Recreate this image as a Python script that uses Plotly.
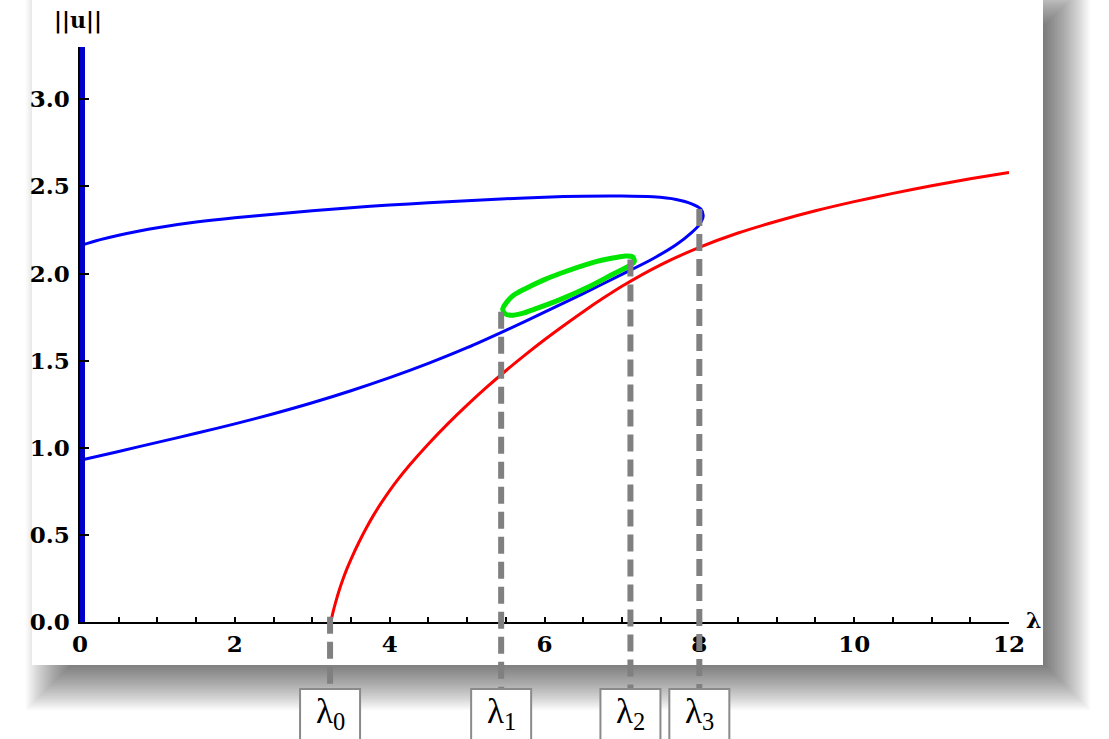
import plotly.graph_objects as go

# ---------------- data ----------------
blue_lam = [0.0, 0.5, 1.0, 1.5, 2.0, 2.5, 3.0, 3.5, 4.0, 4.5, 5.0, 5.5, 6.0, 6.5, 7.0, 7.4, 7.7, 7.9, 8.0, 8.05,
            8.02, 7.9, 7.7, 7.4, 7.0, 6.5, 6.0, 5.5, 5.0, 4.5, 4.0, 3.5, 3.0, 2.5, 2.0, 1.5, 1.0, 0.75, 0.5, 0.25, 0.0]
blue_norm = [0.928, 0.979, 1.031, 1.083, 1.137, 1.195, 1.258, 1.327, 1.402, 1.484, 1.574, 1.674, 1.778, 1.885, 1.995, 2.085, 2.165, 2.235, 2.28, 2.33,
             2.37, 2.40, 2.425, 2.44, 2.445, 2.444, 2.438, 2.429, 2.418, 2.406, 2.393, 2.378, 2.36, 2.34, 2.32, 2.295, 2.263, 2.243, 2.22, 2.193, 2.16]

red_lam = [3.24, 3.27, 3.3, 3.35, 3.4, 3.45, 3.5, 3.6, 3.7, 3.8, 3.9, 4.0, 4.1, 4.25, 4.5, 4.75, 5.0, 5.25, 5.5, 5.75,
           6.0, 6.25, 6.5, 6.75, 7.0, 7.5, 8.0, 8.5, 9.0, 9.5, 10.0, 10.5, 11.0, 11.5, 12.0]
red_norm = [0.0, 0.06, 0.11, 0.185, 0.25, 0.3075, 0.36, 0.455, 0.541, 0.619, 0.689, 0.754, 0.814, 0.8965, 1.0215, 1.137, 1.2445, 1.346, 1.442, 1.533,
            1.62, 1.702, 1.781, 1.856, 1.927, 2.05, 2.15, 2.2325, 2.30, 2.36, 2.4125, 2.46, 2.5035, 2.5435, 2.58]

green_lam = [5.46, 5.52, 5.6, 5.74, 6.0, 6.2, 6.6, 6.9, 7.05, 7.14, 7.16, 7.1, 6.9, 6.6, 6.2, 5.9, 5.7, 5.57, 5.49, 5.46]
green_norm = [1.795, 1.84, 1.875, 1.91, 1.965, 2.0, 2.06, 2.09, 2.10, 2.095, 2.07, 2.045, 2.0, 1.93, 1.85, 1.80, 1.77, 1.76, 1.77, 1.795]

axis_branch_lam = [0.0, 0.0]
axis_branch_norm = [0.0, 3.3]

crit_lam = [3.23, 5.44, 7.11, 8.0]
crit_norm = [0.03, 1.78, 2.08, 2.37]
crit_labels = ["λ<sub>0</sub>", "λ<sub>1</sub>", "λ<sub>2</sub>", "λ<sub>3</sub>"]

x_ticks = [0, 2, 4, 6, 8, 10, 12]
y_ticks = [0.0, 0.5, 1.0, 1.5, 2.0, 2.5, 3.0]
y_ticktext = ["0.0", "0.5", "1.0", "1.5", "2.0", "2.5", "3.0"]

# ---------------- layout geometry ----------------
W, H = 1109, 739
L, R, T, B = 80, 100, 47, 117
PW, PH = W - L - R, H - T - B


def px_x(p):
    return (p - L) / PW


def px_y(p):
    return (H - B - p) / PH


fig = go.Figure()
fig.add_trace(go.Scatter(x=blue_lam, y=blue_norm, mode="lines",
                         line=dict(color="#0000ff", width=3, shape="spline", smoothing=0.8), hoverinfo="skip"))
fig.add_trace(go.Scatter(x=red_lam, y=red_norm, mode="lines",
                         line=dict(color="#ff0000", width=3, shape="spline", smoothing=0.8), hoverinfo="skip"))
fig.add_trace(go.Scatter(x=green_lam, y=green_norm, mode="lines",
                         line=dict(color="#00e600", width=5, shape="spline", smoothing=0.8), hoverinfo="skip"))
fig.add_trace(go.Scatter(x=axis_branch_lam, y=axis_branch_norm, mode="lines",
                         line=dict(color="#0000cc", width=10), hoverinfo="skip"))

shapes = []
# drop shadow of the panel (stacked translucent rectangles)
N = 40
r = 34
bx0, bx1, by0, by1 = 60, 1056, 14, 676
for k in range(N):
    e = -r + (2 * r) * k / (N - 1)
    shapes.append(dict(type="rect", xref="paper", yref="paper", layer="below",
                       x0=px_x(bx0 - e), x1=px_x(bx1 + e), y0=px_y(by1 + e), y1=px_y(by0 - e),
                       fillcolor="rgba(0,0,0,0.023)", line=dict(width=0)))
# white panel
shapes.append(dict(type="rect", xref="paper", yref="paper", layer="below",
                   x0=px_x(32), x1=px_x(1043), y0=px_y(665), y1=px_y(-5),
                   fillcolor="white", line=dict(width=0)))

box_half = 30 / (PW / 12.0)
annotations = []
for lam, top, lab in zip(crit_lam, crit_norm, crit_labels):
    shapes.append(dict(type="line", xref="x", yref="paper", layer="above",
                       x0=lam, x1=lam, y0=top / 3.3, y1=px_y(689),
                       line=dict(color="#808080", width=6, dash="17px,8px")))
    shapes.append(dict(type="rect", xref="x", yref="paper", layer="above",
                       x0=lam - box_half, x1=lam + box_half, y0=px_y(760), y1=px_y(689),
                       fillcolor="white", line=dict(color="#8a8a8a", width=2)))
    annotations.append(dict(x=lam, y=px_y(713), xref="x", yref="paper", text=lab, showarrow=False,
                            font=dict(family="Liberation Serif", size=35, color="black"),
                            xanchor="center", yanchor="middle"))

lab_font = dict(family="DejaVu Serif", size=22, color="black", weight="bold")
annotations.append(dict(x=px_x(78), y=px_y(21), xref="paper", yref="paper", text="||u||", showarrow=False,
                        font=lab_font, xanchor="center", yanchor="middle"))
annotations.append(dict(x=px_x(1033), y=px_y(620), xref="paper", yref="paper", text="λ", showarrow=False,
                        font=lab_font, xanchor="center", yanchor="middle"))

tickfont = dict(family="DejaVu Serif", size=23, color="black", weight="bold")
fig.update_layout(
    width=W, height=H, margin=dict(l=L, r=R, t=T, b=B, pad=0),
    paper_bgcolor="white", plot_bgcolor="rgba(0,0,0,0)",
    showlegend=False, shapes=shapes, annotations=annotations,
    xaxis=dict(range=[0, 12], tickvals=x_ticks, ticks="inside", ticklen=5, tickwidth=1.5, tickcolor="black",
               minor=dict(dtick=0.5, ticks="inside", ticklen=5, tickwidth=1.5, tickcolor="black"),
               showline=True, linecolor="black", linewidth=1.5, showgrid=False, zeroline=False,
               tickfont=tickfont, ticklabelstandoff=1),
    yaxis=dict(range=[0, 3.3], tickvals=y_ticks, ticktext=y_ticktext, ticks="inside", ticklen=9, tickwidth=1.5,
               tickcolor="black", showline=True, linecolor="black", linewidth=1.5, showgrid=False, zeroline=False,
               tickfont=tickfont, ticklabelstandoff=4),
)

fig.write_html("out.html", config={"displayModeBar": False},
               post_script="document.body.style.margin='0';")
